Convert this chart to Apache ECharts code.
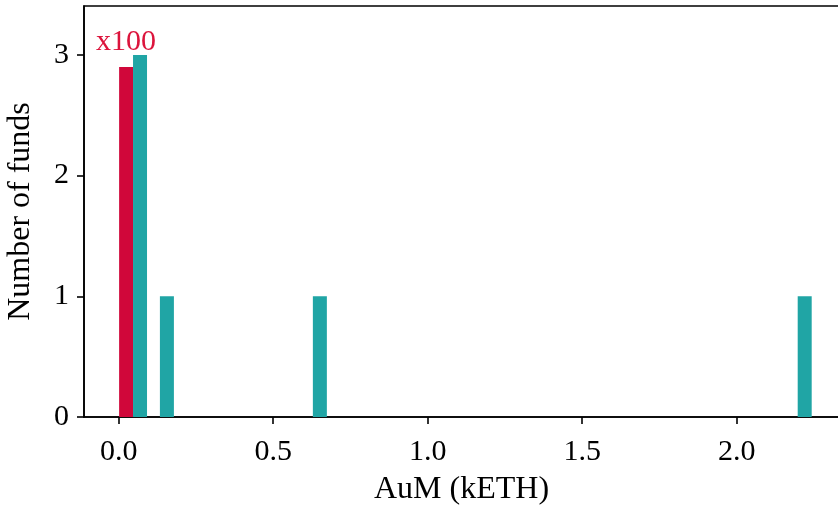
<!DOCTYPE html>
<html>
<head>
<meta charset="utf-8">
<script src="https://cdn.jsdelivr.net/npm/echarts@6/dist/echarts.min.js"></script>
<style>
  html, body { margin: 0; padding: 0; background: #fff; }
  #chart { width: 838px; height: 509px; }
</style>
</head>
<body>
<div id="chart"></div>
<script>
// bin centres (kETH) and counts
const redCenters = [0.024]
const redCounts = [2.9]
const tealCenters = [0.069, 0.156, 0.651, 2.220]
const tealCounts = [3, 1, 1, 1]
const redLabels = ["x100"]

const xTicks = [0, 0.5, 1, 1.5, 2]
const yTicks = [0, 1, 2, 3]

const BIN_W = 0.0453
const RED = "#d0073a"
const TEAL = "#20a5a5"
const FONT = "'Liberation Serif', 'DejaVu Serif', serif"

const chart = echarts.init(document.getElementById("chart"), null, {renderer: "canvas"})

function barItem(color, withLabel) {
    return function (params, api) {
        const c = api.value(0), h = api.value(1)
        const p0 = api.coord([c - BIN_W / 2, h])
        const p1 = api.coord([c + BIN_W / 2, 0])
        const el = {
            type: "rect",
            shape: {x: p0[0], y: p0[1], width: p1[0] - p0[0], height: p1[1] - p0[1]},
            style: {fill: color}
        }
        if (withLabel) {
            el.textContent = {
                style: {text: redLabels[params.dataIndex], fill: "#dc143c", font: "30px " + FONT}
            }
            el.textConfig = {position: "top", distance: 10}
        }
        return el
    }
}

const axisCommon = {
    axisLine: {show: true, onZero: false, lineStyle: {color: "#000", width: 1.6}},
    axisTick: {show: true, length: 7, lineStyle: {color: "#000", width: 1.6}},
    splitLine: {show: false},
    nameTextStyle: {color: "#000", fontFamily: FONT, fontSize: 32},
    nameLocation: "middle"
}

chart.setOption({
    animation: false,
    grid: {left: 84, top: 6, right: -1, bottom: 92, containLabel: false, outerBoundsMode: "none",
        show: true, borderColor: "#000", borderWidth: 1.6},
    xAxis: {
        ...axisCommon,
        type: "value",
        min: -0.1123, max: 2.331,
        name: "AuM (kETH)", nameGap: 57,
        axisTick: {...axisCommon.axisTick, customValues: xTicks},
        axisLabel: {customValues: xTicks, color: "#000", fontFamily: FONT, fontSize: 30, margin: 20,
            formatter: v => v.toFixed(1)}
    },
    yAxis: {
        ...axisCommon,
        type: "value",
        min: 0, max: 3.405,
        name: "Number of funds", nameGap: 47,
        axisTick: {...axisCommon.axisTick, customValues: yTicks},
        axisLabel: {customValues: yTicks, color: "#000", fontFamily: FONT, fontSize: 30, margin: 15}
    },
    series: [
        {type: "custom", renderItem: barItem(RED, true), data: redCenters.map((c, i) => [c, redCounts[i]]), clip: false},
        {type: "custom", renderItem: barItem(TEAL, false), data: tealCenters.map((c, i) => [c, tealCounts[i]])}
    ]
})
</script>
</body>
</html>
